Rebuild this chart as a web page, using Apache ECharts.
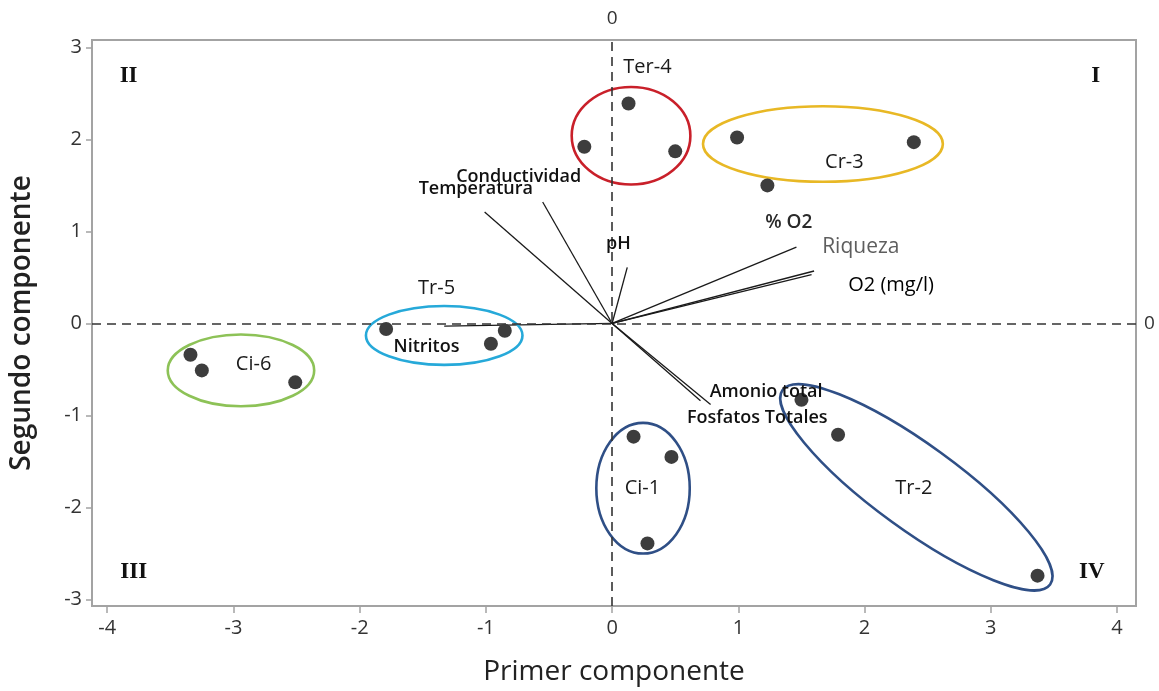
<!DOCTYPE html>
<html>
<head>
<meta charset="utf-8">
<script src="https://cdn.jsdelivr.net/npm/echarts@6/dist/echarts.min.js"></script>
<style>html,body{margin:0;padding:0;background:#fff;}#c{width:1159px;height:691px;}</style>
</head>
<body>
<div id="c"></div>
<script>
// ---- data ----
const xTicks = [-4, -3, -2, -1, 0, 1, 2, 3, 4];
const yTicks = [-3, -2, -1, 0, 1, 2, 3];

// sample scores (PC1, PC2)
const points = [
  [0.13, 2.39], [-0.22, 1.92], [0.50, 1.87],      // Ter-4
  [0.99, 2.02], [2.39, 1.97], [1.23, 1.50],       // Cr-3
  [-1.79, -0.06], [-0.85, -0.08], [-0.96, -0.22], // Tr-5
  [-3.34, -0.34], [-3.25, -0.51], [-2.51, -0.64], // Ci-6
  [0.17, -1.23], [0.47, -1.45], [0.28, -2.39],    // Ci-1
  [1.50, -0.83], [1.79, -1.21], [3.37, -2.74]     // Tr-2
];

// group ellipses: [cx, cy, rx (x units), ry (y units), angle deg]
const groupNames = ['Ter-4', 'Cr-3', 'Tr-5', 'Ci-6', 'Ci-1', 'Tr-2'];
const ellipses = [
  [0.15, 2.04, 0.47, 0.53, 0],
  [1.67, 1.95, 0.95, 0.41, 0],
  [-1.33, -0.13, 0.62, 0.32, 0],
  [-2.94, -0.51, 0.58, 0.39, 0],
  [0.245, -1.79, 0.37, 0.71, 0],
  [2.41, -1.78, 1.31, 0.46, -36]
];
const groupLabelPos = [
  [0.28, 2.78], [1.84, 1.75], [-1.39, 0.38], [-2.84, -0.44], [0.24, -1.79], [2.39, -1.79]
];

// variable loadings (vector ends)
const loadingNames = ['Temperatura', 'Conductividad', 'pH', 'Riqueza', '% O2', 'O2 (mg/l)', 'Nitritos', 'Amonio total', 'Fosfatos Totales'];
const loadings = [
  [-1.01, 1.21], [-0.55, 1.32], [0.12, 0.61], [1.46, 0.83], [1.58, 0.53], [1.60, 0.57],
  [-1.33, -0.03], [0.70, -0.84], [0.78, -0.88]
];
const loadingLabelPos = [
  [-1.08, 1.46], [-0.74, 1.59], [0.05, 0.86], [1.97, 0.83], [1.40, 1.10], [2.21, 0.41],
  [-1.47, -0.25], [1.22, -0.74], [1.15, -1.03]
];

const quadrantNames = ['I', 'II', 'III', 'IV'];
const quadrantPos = [[3.83, 2.69], [-3.83, 2.69], [-3.79, -2.70], [3.80, -2.70]];

// ---- styles ----
const ellipseColors = ['#c9202a', '#e8b825', '#26a9d9', '#8dc257', '#2f4f86', '#2f4f86'];
const labelFont = '"Open Sans", "Noto Sans", sans-serif';

const chart = echarts.init(document.getElementById('c'), null, {renderer: 'canvas'});

const loadingLabelStyles = {
  'Riqueza': {color: '#5e5e5e', fontSize: 21, fontWeight: 400},
  'O2 (mg/l)': {color: '#000', fontSize: 20, fontWeight: 400},
  '% O2': {color: '#2a2a2a', fontSize: 19}
};

chart.setOption({
  animation: false,
  backgroundColor: '#fff',
  grid: {left: 90, right: 23, top: 40, bottom: 83, show: true, borderColor: '#a3a3a3', borderWidth: 2},
  xAxis: {
    type: 'value', min: -4.12, max: 4.15,
    name: 'Primer componente', nameLocation: 'middle', nameGap: 52,
    nameTextStyle: {fontFamily: labelFont, fontSize: 28, color: '#222'},
    axisLine: {show: true, onZero: false, lineStyle: {color: '#a3a3a3', width: 2}},
    axisTick: {show: true, length: 7, customValues: xTicks, lineStyle: {color: '#a3a3a3', width: 1.5}},
    axisLabel: {customValues: xTicks, fontFamily: labelFont, fontSize: 20, color: '#333', margin: 12},
    splitLine: {show: false}
  },
  yAxis: {
    type: 'value', min: -3.07, max: 3.08,
    name: 'Segundo componente', nameLocation: 'middle', nameGap: 56,
    nameTextStyle: {fontFamily: labelFont, fontSize: 28, fontWeight: 600, color: '#222'},
    axisLine: {show: true, onZero: false, lineStyle: {color: '#a3a3a3', width: 2}},
    axisTick: {show: true, length: 6, customValues: yTicks, lineStyle: {color: '#a3a3a3', width: 1.5}},
    axisLabel: {customValues: yTicks, fontFamily: labelFont, fontSize: 20, color: '#333', margin: 10},
    splitLine: {show: false}
  },
  series: [
    {
      type: 'scatter', data: [], silent: true,
      markLine: {
        silent: true, symbol: 'none',
        lineStyle: {color: '#333', type: [9, 6], width: 1.6},
        label: {show: true, position: 'end', formatter: '0', fontFamily: labelFont, fontSize: 19, color: '#333'},
        data: [
          {xAxis: 0, label: {distance: 12}},
          {yAxis: 0, label: {distance: 8}}
        ]
      }
    },
    {
      type: 'custom', silent: true,
      data: loadings,
      renderItem: function (params, api) {
        const o = api.coord([0, 0]);
        const e = api.coord([api.value(0), api.value(1)]);
        return {type: 'line', shape: {x1: o[0], y1: o[1], x2: e[0], y2: e[1]},
          style: {stroke: '#1a1a1a', lineWidth: 1.3}};
      },
      z: 3
    },
    {
      type: 'custom', silent: true,
      data: ellipses,
      renderItem: function (params, api) {
        const c = api.coord([api.value(0), api.value(1)]);
        const sx = api.size([api.value(2), 0])[0];
        const sy = api.size([0, api.value(3)])[1];
        return {type: 'ellipse', x: c[0], y: c[1], rotation: api.value(4) * Math.PI / 180,
          shape: {cx: 0, cy: 0, rx: sx, ry: sy},
          style: {fill: 'none', stroke: ellipseColors[params.dataIndex], lineWidth: 2.6}};
      },
      z: 4
    },
    {
      type: 'scatter', silent: true, data: points, symbol: 'circle', symbolSize: 14,
      itemStyle: {color: '#3d3d3d', opacity: 1}, z: 5
    },
    {
      type: 'scatter', silent: true, symbolSize: 0, z: 6, itemStyle: {opacity: 1},
      data: groupNames.map((n, i) => ({name: n, value: groupLabelPos[i]})),
      label: {show: true, position: 'inside', formatter: '{b}', fontFamily: labelFont, fontSize: 20, color: '#1a1a1a'}
    },
    {
      type: 'scatter', silent: true, symbolSize: 0, z: 6, itemStyle: {opacity: 1},
      data: loadingNames.map((n, i) => ({
        name: n, value: loadingLabelPos[i],
        label: Object.assign({}, loadingLabelStyles[n] || {})
      })),
      label: {show: true, position: 'inside', formatter: '{b}', fontFamily: labelFont, fontSize: 18, color: '#111', fontWeight: 600}
    },
    {
      type: 'scatter', silent: true, symbolSize: 0, z: 6, itemStyle: {opacity: 1},
      data: quadrantNames.map((n, i) => ({name: n, value: quadrantPos[i]})),
      label: {show: true, position: 'inside', formatter: '{b}', fontFamily: '"Liberation Serif", "DejaVu Serif", serif', fontSize: 23, fontWeight: 'bold', color: '#111'}
    }
  ]
});
</script>
</body>
</html>
